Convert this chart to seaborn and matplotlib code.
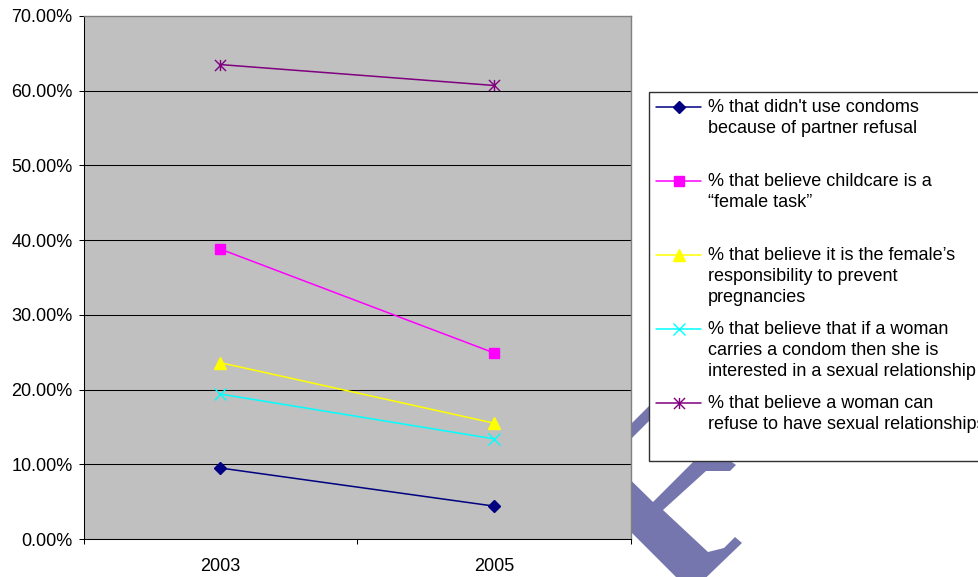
import numpy as np
import matplotlib
matplotlib.use("Agg")
import matplotlib.pyplot as plt
import seaborn as sns
from matplotlib.path import Path
from matplotlib.lines import Line2D
from matplotlib.patches import Polygon
from matplotlib.ticker import FuncFormatter, NullFormatter
from matplotlib.legend_handler import HandlerLine2D

# ---- data (percent of respondents) ----
years = [2003, 2005]
partner_refusal = [9.5, 4.4]
childcare_female = [38.8, 24.9]
female_prevents = [23.6, 15.5]
condom_interest = [19.4, 13.4]
woman_can_refuse = [63.5, 60.7]

series_labels = [
    "% that didn't use condoms\nbecause of partner refusal",
    "% that believe childcare is a\n\u201cfemale task\u201d",
    "% that believe it is the female\u2019s\nresponsibility to prevent\npregnancies",
    "% that believe that if a woman\ncarries a condom then she is\ninterested in a sexual relationship",
    "% that believe a woman can\nrefuse to have sexual relationships",
]
series_values = [partner_refusal, childcare_female, female_prevents,
                 condom_interest, woman_can_refuse]
y_ticks = [0, 10, 20, 30, 40, 50, 60, 70]

# ---- styling ----
colors = ["#000080", "#FF00FF", "#FFFF00", "#00FFFF", "#800080"]
star = Path([(-1, -1), (1, 1), (-1, 1), (1, -1), (0, -1), (0, 1)],
            [Path.MOVETO, Path.LINETO] * 3)
markers = ["D", "s", "^", "x", star]
msizes = [6.5, 7.0, 8.5, 8.0, 8.0]
line_w = 1.1

W, H = 979, 577
sns.set_theme(style="white")
plt.rcParams["font.family"] = ["Liberation Sans", "DejaVu Sans"]

fig = plt.figure(figsize=(W / 100, H / 100), dpi=100)
fig.patch.set_facecolor("white")


def fx(px):
    return px / W


def fy(py):
    return 1 - py / H


# faint stamp mark sitting behind the chart and legend
stamp_color = "#7676ae"
stamp_shapes = [
    [(600, 450), (653, 502), (698, 457), (726, 458), (736, 465), (730, 471),
     (706, 471), (663, 510), (708, 552), (724, 548), (735, 537), (742, 543),
     (691, 592), (600, 501)],
    [(615, 440), (660, 395), (660, 410), (615, 455)],
]
for shape in stamp_shapes:
    poly = Polygon([(fx(x), fy(y)) for x, y in shape], closed=True,
                   transform=fig.transFigure, facecolor=stamp_color,
                   edgecolor="none", zorder=-1)
    fig.add_artist(poly)

ax = fig.add_axes([fx(83.5), fy(539), fx(631) - fx(83.5), fy(16) - fy(539)])
ax.set_facecolor("#C0C0C0")

for vals, c, m, ms in zip(series_values, colors, markers, msizes):
    sns.lineplot(x=years, y=vals, ax=ax, color=c, marker=m, markersize=ms,
                 markeredgecolor=c, markerfacecolor=c, markeredgewidth=1.0,
                 linewidth=line_w, legend=False)

ax.set_xlim(2002, 2006)
ax.set_ylim(0, 70)
ax.set_xlabel("")
ax.set_ylabel("")

# y axis: percent ticks with horizontal gridlines
ax.set_yticks(y_ticks)
ax.yaxis.set_major_formatter(FuncFormatter(lambda v, p: f"{v:.2f}%"))
ax.yaxis.grid(True, color="black", linewidth=0.75)
ax.xaxis.grid(False)
ax.yaxis.get_major_ticks()[-1].gridline.set_visible(False)

# x axis: tick marks between categories, labels at the categories
ax.set_xticks([2002, 2004, 2006])
ax.xaxis.set_major_formatter(NullFormatter())
ax.set_xticks(years, minor=True)
ax.set_xticklabels([str(y) for y in years], minor=True)

ax.tick_params(axis="y", which="major", left=True, direction="out",
               length=3.6, width=0.75, color="black", pad=4.3,
               labelsize=13, labelcolor="black")
ax.tick_params(axis="x", which="major", bottom=True, direction="out",
               length=3.6, width=0.75, color="black")
ax.tick_params(axis="x", which="minor", bottom=True, length=0, pad=13.5,
               labelsize=13, labelcolor="black")

for side in ("left", "bottom"):
    ax.spines[side].set_color("black")
    ax.spines[side].set_linewidth(0.75)
for side in ("top", "right"):
    ax.spines[side].set_color("#808080")
    ax.spines[side].set_linewidth(1.0)


class FirstLineHandler(HandlerLine2D):
    """Line handle raised so it sits beside the first line of its label."""

    def __init__(self, lift, **kw):
        super().__init__(**kw)
        self.lift = lift

    def create_artists(self, legend, orig_handle, xdescent, ydescent,
                       width, height, fontsize, trans):
        arts = super().create_artists(legend, orig_handle, xdescent, ydescent,
                                      width, height, fontsize, trans)
        for a in arts:
            a.set_ydata(np.asarray(a.get_ydata(), dtype=float) + self.lift)
        return arts


# every entry padded to three lines so the rows are evenly spaced
padded = []
for lab in series_labels:
    n = lab.count("\n") + 1
    padded.append(lab + "\n" * (3 - n))

handles = [Line2D([], [], color=c, marker=m, markersize=ms, markeredgecolor=c,
                  markerfacecolor=c, markeredgewidth=1.0, linewidth=line_w)
           for c, m, ms in zip(colors, markers, msizes)]
lift = 15.5
leg = fig.legend(handles, padded, loc="upper left",
                 bbox_to_anchor=(fx(649), fy(92)), bbox_transform=fig.transFigure,
                 borderaxespad=0, frameon=True, fancybox=False, shadow=False,
                 framealpha=1, edgecolor="#303030", facecolor="white",
                 fontsize=13, handlelength=2.5, handletextpad=0.35,
                 borderpad=0.4, labelspacing=0.84, numpoints=1,
                 handler_map={h: FirstLineHandler(lift) for h in handles})
leg.get_frame().set_linewidth(1.0)
for t in leg.get_texts():
    t.set_linespacing(1.3)
    t.set_color("black")

fig.savefig("out.png", dpi=100)
